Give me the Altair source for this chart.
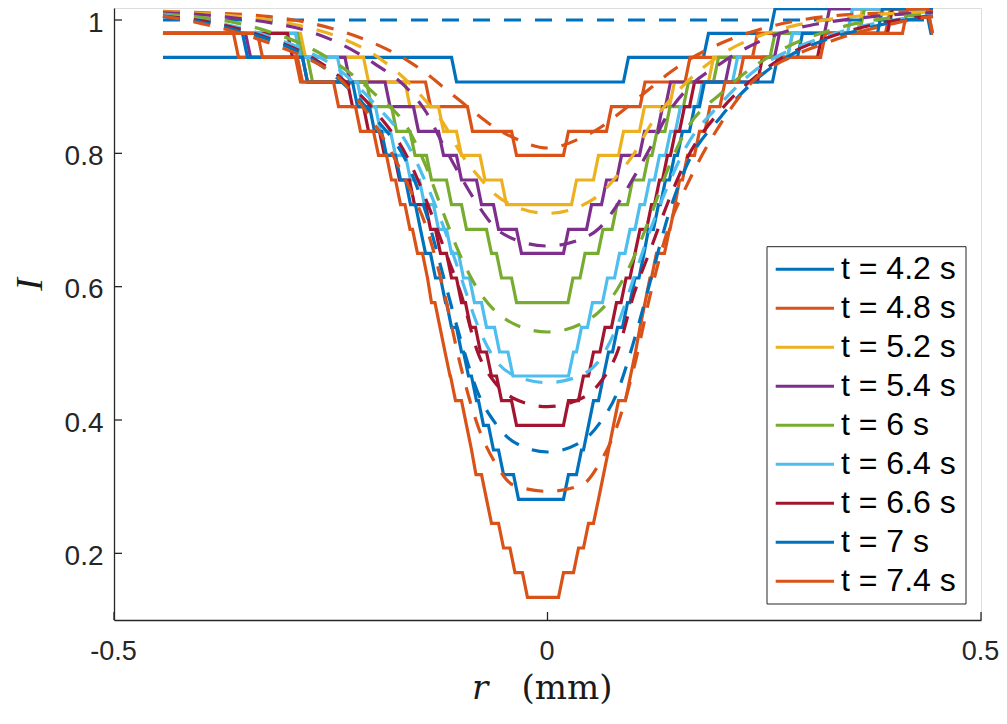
import altair as alt
import pandas as pd

# ---------------- series labels and colours ----------------
names = ["t = 4.2 s", "t = 4.8 s", "t = 5.2 s", "t = 5.4 s", "t = 6 s",
         "t = 6.4 s", "t = 6.6 s", "t = 7 s", "t = 7.4 s"]
colors = ["#0072BD", "#D95319", "#EDB120", "#7E2F8E", "#77AC30",
          "#4DBEEE", "#A2142F", "#0072BD", "#D95319"]

x_ticks = [-0.5, 0, 0.5]
y_ticks = [0.2, 0.4, 0.6, 0.8, 1.0]

# ---------------- measured (solid, quantised) profiles ----------------
# r_* : [first r, r of each level change ..., last r]   I_* : level of each run
r_42 = [-0.4435, -0.1078, 0.0905, 0.1828, 0.2595, 0.4394, 0.4446]
I_42 = [0.944, 0.907, 0.944, 0.980, 1.017, 0.980]

r_48 = [-0.4435, -0.3593, -0.2878, -0.1378, -0.0894, -0.0386, 0.0213, 0.0709,
        0.1096, 0.1615, 0.2393, 0.3927, 0.4412, 0.4446]
I_48 = [0.980, 0.944, 0.907, 0.870, 0.833, 0.797, 0.833, 0.870, 0.907, 0.944,
        0.980, 1.017, 0.980]

r_52 = [-0.4435, -0.2820, -0.2093, -0.1615, -0.1228, -0.1021, -0.0750, -0.0502,
        0.0306, 0.0559, 0.0848, 0.1090, 0.1436, 0.1886, 0.2797, 0.3604, 0.4446]
I_52 = [0.980, 0.944, 0.907, 0.870, 0.833, 0.797, 0.760, 0.723, 0.760, 0.797,
        0.833, 0.870, 0.907, 0.944, 0.980, 1.017]

r_54 = [-0.4435, -0.3454, -0.2307, -0.1845, -0.1517, -0.1228, -0.1021, -0.0790,
        -0.0594, -0.0329, 0.0213, 0.0479, 0.0652, 0.0825, 0.1090, 0.1298, 0.1390,
        0.2082, 0.2647, 0.3224, 0.4446]
I_54 = [0.980, 0.944, 0.907, 0.870, 0.833, 0.797, 0.760, 0.723, 0.686, 0.650,
        0.686, 0.723, 0.760, 0.797, 0.833, 0.870, 0.907, 0.944, 0.980, 1.017]

r_60 = [-0.4435, -0.2855, -0.2739, -0.2059, -0.1770, -0.1557, -0.1367, -0.1136,
        -0.0963, -0.0675, -0.0559, -0.0386, 0.0265, 0.0404, 0.0611, 0.0773, 0.0952,
        0.1136, 0.1234, 0.1384, 0.1597, 0.1943, 0.2595, 0.3627, 0.4446]
I_60 = [0.980, 0.944, 0.907, 0.870, 0.833, 0.797, 0.760, 0.723, 0.686, 0.650,
        0.613, 0.576, 0.613, 0.650, 0.686, 0.723, 0.760, 0.797, 0.833, 0.870,
        0.907, 0.944, 0.980, 1.017]

r_64 = [-0.4435, -0.2878, -0.2393, -0.2163, -0.1955, -0.1782, -0.1609, -0.1448,
        -0.1286, -0.1136, -0.0998, -0.0871, -0.0732, -0.0582, -0.0427, 0.0271,
        0.0363, 0.0490, 0.0663, 0.0802, 0.0923, 0.1038, 0.1148, 0.1263, 0.1390,
        0.1505, 0.1759, 0.2163, 0.2797, 0.3489, 0.4446]
I_64 = [0.980, 0.944, 0.907, 0.870, 0.833, 0.797, 0.760, 0.723, 0.686, 0.650,
        0.613, 0.576, 0.539, 0.502, 0.466, 0.502, 0.539, 0.576, 0.613, 0.650,
        0.686, 0.723, 0.760, 0.797, 0.833, 0.870, 0.907, 0.944, 0.980, 1.017]

r_66 = [-0.4435, -0.2970, -0.2797, -0.2278, -0.2093, -0.1909, -0.1736, -0.1563,
        -0.1378, -0.1263, -0.1136, -0.1021, -0.0917, -0.0802, -0.0675, -0.0559,
        -0.0386, 0.0213, 0.0386, 0.0502, 0.0634, 0.0767, 0.0877, 0.0980, 0.1038,
        0.1171, 0.1263, 0.1355, 0.1447, 0.1551, 0.1667, 0.2451, 0.3143, 0.3950,
        0.4446]
I_66 = [0.980, 0.944, 0.907, 0.870, 0.833, 0.797, 0.760, 0.723, 0.686, 0.650,
        0.613, 0.576, 0.539, 0.502, 0.466, 0.429, 0.392, 0.429, 0.466, 0.502,
        0.539, 0.576, 0.613, 0.650, 0.686, 0.723, 0.760, 0.797, 0.833, 0.870,
        0.907, 0.944, 0.980, 1.017]

r_70 = [-0.4435, -0.3489, -0.2797, -0.2220, -0.2024, -0.1886, -0.1724, -0.1609,
        -0.1494, -0.1436, -0.1321, -0.1205, -0.1136, -0.1021, -0.0940, -0.0848,
        -0.0767, -0.0652, -0.0536, -0.0363, 0.0213, 0.0363, 0.0444, 0.0502, 0.0617,
        0.0675, 0.0779, 0.0894, 0.0980, 0.1084, 0.1136, 0.1251, 0.1332, 0.1436,
        0.1528, 0.1667, 0.1782, 0.2624, 0.2912, 0.3835, 0.4446]
I_70 = [0.980, 0.944, 0.907, 0.870, 0.833, 0.797, 0.760, 0.723, 0.686, 0.650,
        0.613, 0.576, 0.539, 0.502, 0.466, 0.429, 0.392, 0.355, 0.318, 0.281,
        0.318, 0.355, 0.392, 0.429, 0.466, 0.502, 0.539, 0.576, 0.613, 0.650,
        0.686, 0.723, 0.760, 0.797, 0.833, 0.870, 0.907, 0.944, 0.980, 1.017]

r_74 = [-0.4435, -0.3316, -0.2855, -0.2439, -0.2186, -0.1978, -0.1828, -0.1724,
        -0.1615, -0.1528, -0.1413, -0.1367, -0.1269, -0.1211, -0.1153, -0.1090,
        -0.0963, -0.0905, -0.0854, -0.0732, -0.0675, -0.0536, -0.0404, -0.0260,
        0.0156, 0.0329, 0.0444, 0.0559, 0.0617, 0.0675, 0.0732, 0.0790, 0.0928,
        0.0986, 0.1038, 0.1096, 0.1153, 0.1228, 0.1378, 0.1442, 0.1494, 0.1586,
        0.1724, 0.1845, 0.2018, 0.2232, 0.3178, 0.4123, 0.4412, 0.4446]
I_74 = [0.980, 0.944, 0.907, 0.870, 0.833, 0.797, 0.760, 0.723, 0.686, 0.650,
        0.613, 0.576, 0.539, 0.502, 0.466, 0.429, 0.392, 0.355, 0.318, 0.281,
        0.245, 0.208, 0.171, 0.134, 0.171, 0.208, 0.245, 0.281, 0.318, 0.355,
        0.392, 0.429, 0.466, 0.502, 0.539, 0.576, 0.613, 0.650, 0.686, 0.723,
        0.760, 0.797, 0.833, 0.870, 0.907, 0.944, 0.980, 1.017, 0.980]

# ---------------- fitted (dashed) profiles ----------------
r_fit = [-0.4435, -0.40, -0.36, -0.32, -0.28, -0.24, -0.20, -0.16, -0.14, -0.12,
         -0.10, -0.08, -0.06, -0.04, 0.0, 0.04, 0.06, 0.08, 0.10, 0.12, 0.14,
         0.16, 0.20, 0.24, 0.28, 0.32, 0.36, 0.40, 0.4446]
fit_42 = [1.000, 1.000, 1.000, 1.000, 1.000, 1.000, 1.000, 1.000, 1.000, 1.000,
          1.000, 1.000, 1.000, 1.000, 1.000, 1.000, 1.000, 1.000, 1.000, 1.000,
          1.000, 1.000, 1.000, 1.000, 1.000, 1.000, 1.000, 1.000, 1.000]
fit_48 = [1.013, 1.011, 1.009, 1.005, 0.997, 0.984, 0.965, 0.938, 0.920, 0.899,
          0.878, 0.857, 0.838, 0.824, 0.808, 0.824, 0.838, 0.857, 0.878, 0.899,
          0.920, 0.938, 0.965, 0.984, 0.997, 1.005, 1.009, 1.011, 1.013]
fit_52 = [1.012, 1.010, 1.006, 1.000, 0.990, 0.974, 0.948, 0.906, 0.878, 0.845,
          0.800, 0.766, 0.738, 0.722, 0.710, 0.722, 0.738, 0.766, 0.800, 0.845,
          0.878, 0.906, 0.948, 0.974, 0.990, 1.000, 1.006, 1.010, 1.012]
fit_54 = [1.011, 1.008, 1.003, 0.996, 0.985, 0.965, 0.935, 0.895, 0.862, 0.812,
          0.765, 0.722, 0.688, 0.672, 0.661, 0.672, 0.688, 0.722, 0.765, 0.812,
          0.862, 0.895, 0.935, 0.965, 0.985, 0.996, 1.003, 1.008, 1.011]
fit_60 = [1.009, 1.004, 0.996, 0.982, 0.962, 0.932, 0.890, 0.835, 0.780, 0.710,
          0.645, 0.595, 0.563, 0.545, 0.532, 0.545, 0.563, 0.595, 0.645, 0.710,
          0.780, 0.835, 0.890, 0.932, 0.962, 0.982, 0.996, 1.004, 1.009]
fit_64 = [1.007, 1.000, 0.990, 0.975, 0.955, 0.925, 0.875, 0.810, 0.755, 0.690,
          0.615, 0.540, 0.490, 0.468, 0.456, 0.468, 0.490, 0.540, 0.615, 0.690,
          0.755, 0.810, 0.875, 0.925, 0.955, 0.975, 0.990, 1.000, 1.007]
fit_66 = [1.006, 0.999, 0.988, 0.972, 0.950, 0.915, 0.865, 0.790, 0.730, 0.660,
          0.590, 0.500, 0.455, 0.433, 0.420, 0.433, 0.455, 0.500, 0.590, 0.660,
          0.730, 0.790, 0.865, 0.915, 0.950, 0.972, 0.988, 0.999, 1.006]
fit_70 = [1.005, 0.997, 0.985, 0.970, 0.947, 0.910, 0.855, 0.780, 0.710, 0.615,
          0.520, 0.440, 0.395, 0.368, 0.352, 0.368, 0.395, 0.440, 0.520, 0.615,
          0.710, 0.780, 0.855, 0.910, 0.947, 0.970, 0.985, 0.997, 1.005]
fit_74 = [1.006, 0.995, 0.982, 0.965, 0.944, 0.912, 0.845, 0.750, 0.690, 0.596,
          0.480, 0.390, 0.335, 0.303, 0.293, 0.303, 0.335, 0.390, 0.480, 0.596,
          0.690, 0.750, 0.845, 0.912, 0.944, 0.965, 0.982, 0.995, 1.006]

measured = [(r_42, I_42), (r_48, I_48), (r_52, I_52), (r_54, I_54), (r_60, I_60),
            (r_64, I_64), (r_66, I_66), (r_70, I_70), (r_74, I_74)]
fits = [fit_42, fit_48, fit_52, fit_54, fit_60, fit_64, fit_66, fit_70, fit_74]

RISE = 0.0029  # half-width of each sloped riser between two samples


def runs_to_points(r_list, i_list):
    pts = [(r_list[0], i_list[0])]
    n = min(len(r_list) - 2, len(i_list) - 1)
    for j in range(n):
        t = r_list[j + 1]
        a = max(t - RISE, pts[-1][0])
        b = max(t + RISE, a)
        pts.append((a, i_list[j]))
        pts.append((b, i_list[j + 1]))
    pts.append((r_list[-1], i_list[n]))
    return pts


rows = []
for name, (rl, il) in zip(names, measured):
    for k, (x, y) in enumerate(runs_to_points(rl, il)):
        rows.append({"name": name, "r": x, "I": y, "k": k})
df_meas = pd.DataFrame(rows)

rows = []
for name, vals in zip(names, fits):
    for k, (x, y) in enumerate(zip(r_fit, vals)):
        rows.append({"name": name, "r": x, "I": y, "k": k})
df_fit = pd.DataFrame(rows)

# ---------------- scales / axes ----------------
W, H = 867, 612
AX = "#262626"
LW = 3.2
xs = alt.Scale(domain=[-0.5, 0.5], nice=False, zero=False)
ys = alt.Scale(domain=[0.1, 1.018], nice=False, zero=False)
cs = alt.Scale(domain=names, range=colors)

x_axis = alt.Axis(values=x_ticks, ticks=False, tickSize=0, grid=False, title=None,
                  labelExpr="toString(datum.value)", labelFont="Liberation Sans",
                  labelFontSize=27, labelColor=AX, labelPadding=18, labelOffset=-1,
                  labelFlush=False, labelOverlap=False,
                  domainColor=AX, domainWidth=1.3)
y_axis = alt.Axis(values=y_ticks, ticks=False, tickSize=0, grid=False,
                  title="I", titleFont="Liberation Serif", titleFontStyle="italic",
                  titleFontWeight="normal", titleFontSize=38, titleColor="#1a1a1a",
                  titleAngle=270, titleX=-84, titleY=276, titleAlign="center",
                  titleBaseline="middle",
                  labelExpr="toString(datum.value)", labelFont="Liberation Sans",
                  labelFontSize=28, labelColor=AX, labelPadding=11, labelOffset=3,
                  labelOverlap=False, domainColor=AX, domainWidth=1.3)

solid = alt.Chart(df_meas).mark_line(strokeWidth=LW, clip=False).encode(
    x=alt.X("r:Q", scale=xs, axis=x_axis),
    y=alt.Y("I:Q", scale=ys, axis=y_axis),
    color=alt.Color("name:N", scale=cs, legend=None),
    order=alt.Order("k:Q"),
)

dashed = alt.Chart(df_fit).mark_line(strokeWidth=LW, strokeDash=[17, 14],
                                     interpolate="monotone", clip=False).encode(
    x=alt.X("r:Q", scale=xs, axis=x_axis),
    y=alt.Y("I:Q", scale=ys, axis=y_axis),
    color=alt.Color("name:N", scale=cs, legend=None),
    order=alt.Order("k:Q"),
)

# inward tick marks (MATLAB style)
xt = alt.Chart(pd.DataFrame({"r": x_ticks})).mark_rule(color=AX, strokeWidth=1.3).encode(
    x=alt.X("r:Q", scale=xs, axis=x_axis), y=alt.value(H), y2=alt.value(H - 8))
yt = alt.Chart(pd.DataFrame({"I": y_ticks})).mark_rule(color=AX, strokeWidth=1.3).encode(
    y=alt.Y("I:Q", scale=ys, axis=y_axis), x=alt.value(0), x2=alt.value(8))

# ---------------- legend ----------------
leg_df = pd.DataFrame({"name": names, "color": colors, "row": list(range(len(names)))})
box = alt.Chart(pd.DataFrame({"b": [0]})).mark_rect(
    fill="white", stroke=AX, strokeWidth=1).encode(
    x=alt.value(653), x2=alt.value(852), y=alt.value(238.7), y2=alt.value(596))
leg_lines = alt.Chart(leg_df).transform_calculate(
    py="261.3 + 39 * datum.row").mark_rule(strokeWidth=3).encode(
    x=alt.value(661.7), x2=alt.value(720),
    y=alt.Y("py:Q", scale=None, axis=None),
    color=alt.Color("color:N", scale=None, legend=None))
leg_text = alt.Chart(leg_df).transform_calculate(
    py="261.3 + 39 * datum.row").mark_text(
    align="left", baseline="middle", font="Liberation Sans", fontSize=32,
    color="black").encode(
    x=alt.value(727), y=alt.Y("py:Q", scale=None, axis=None), text="name:N")

# ---------------- x title: italic r + upright (mm) ----------------
t_r = alt.Chart(pd.DataFrame({"t": ["r"]})).mark_text(
    font="DejaVu Serif", fontStyle="italic", fontSize=34, align="center",
    baseline="alphabetic", color="#1a1a1a").encode(
    x=alt.value(366), y=alt.value(691), text="t:N")
t_mm = alt.Chart(pd.DataFrame({"t": ["(mm)"]})).mark_text(
    font="DejaVu Serif", fontSize=34, align="center",
    baseline="alphabetic", color="#1a1a1a").encode(
    x=alt.value(453), y=alt.value(691), text="t:N")

chart = alt.layer(solid, dashed, xt, yt, box, leg_lines, leg_text, t_r, t_mm).properties(
    width=W, height=H,
    autosize=alt.AutoSizeParams(type="none"),
    padding={"left": 106, "top": 0, "right": 18, "bottom": 88},
).configure_view(stroke=None).configure(background="white")

chart.save("out.html", embed_options={"renderer": "svg", "actions": False})
